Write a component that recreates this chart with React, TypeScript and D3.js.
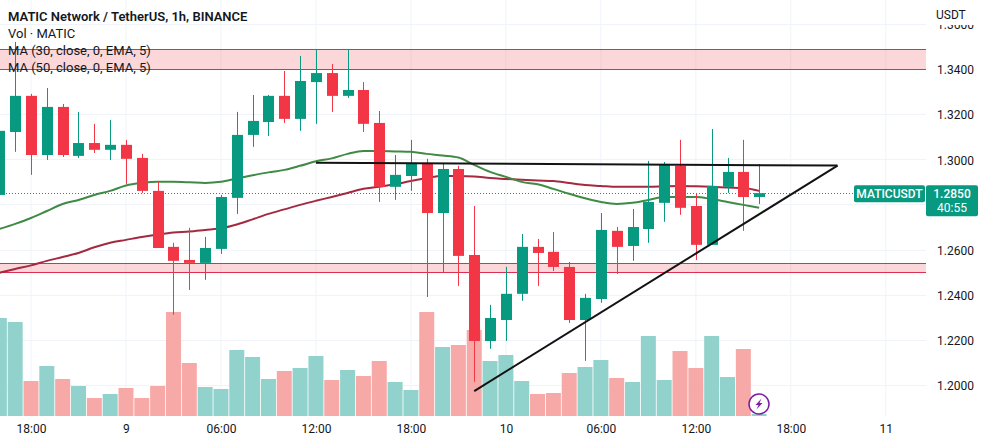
import React, { useEffect, useRef } from 'react';
import * as d3 from 'd3';

const FONT = 'Roboto, "Open Sans", sans-serif';
const UP = '#089981';
const DOWN = '#f23645';
const UP_VOL = '#92d2cc';
const DOWN_VOL = '#f7a9a7';
const GRID = '#f0f3fa';
const TEXT = '#131722';

// first bar sits two hours before the 18:00 tick
const FIRST_BAR = -2;

const opens = [1.2842, 1.3121, 1.3281, 1.3019, 1.3232, 1.3015, 1.3072, 1.3042, 1.3064, 1.3006, 1.2860, 1.2612, 1.2554, 1.2541, 1.2603, 1.2829, 1.3108, 1.3165, 1.3281, 1.3179, 1.3342, 1.3382, 1.3281, 1.3307, 1.3161, 1.2878, 1.2926, 1.2984, 1.2762, 1.2957, 1.2576, 1.2195, 1.2288, 1.2404, 1.2612, 1.2590, 1.2523, 1.2288, 1.2381, 1.2683, 1.2616, 1.2691, 1.2807, 1.2971, 1.2793, 1.2621, 1.2878, 1.2944, 1.2833];
const highs = [1.3126, 1.3520, 1.3290, 1.3316, 1.3245, 1.3210, 1.3157, 1.3174, 1.3086, 1.3024, 1.2900, 1.2630, 1.2696, 1.2656, 1.2842, 1.3210, 1.3285, 1.3285, 1.3391, 1.3458, 1.3484, 1.3422, 1.3489, 1.3342, 1.3214, 1.3019, 1.3086, 1.3002, 1.2984, 1.2971, 1.2793, 1.2355, 1.2523, 1.2669, 1.2647, 1.2678, 1.2545, 1.2404, 1.2762, 1.2700, 1.2780, 1.2993, 1.2988, 1.3086, 1.2847, 1.3134, 1.3006, 1.3086, 1.2979];
const lows = [1.2842, 1.3033, 1.2931, 1.2997, 1.3010, 1.3006, 1.3028, 1.2997, 1.2891, 1.2851, 1.2607, 1.2311, 1.2421, 1.2466, 1.2581, 1.2758, 1.3055, 1.3103, 1.3161, 1.3126, 1.3157, 1.3210, 1.3272, 1.3121, 1.2811, 1.2820, 1.2860, 1.2390, 1.2501, 1.2439, 1.2014, 1.2160, 1.2195, 1.2373, 1.2439, 1.2505, 1.2275, 1.2107, 1.2364, 1.2492, 1.2550, 1.2630, 1.2723, 1.2754, 1.2554, 1.2621, 1.2851, 1.2683, 1.2802];
const closes = [1.3126, 1.3281, 1.3019, 1.3232, 1.3019, 1.3072, 1.3042, 1.3064, 1.3002, 1.2860, 1.2607, 1.2550, 1.2541, 1.2607, 1.2833, 1.3108, 1.3170, 1.3281, 1.3179, 1.3347, 1.3382, 1.3281, 1.3307, 1.3157, 1.2878, 1.2931, 1.2984, 1.2762, 1.2957, 1.2572, 1.2195, 1.2297, 1.2404, 1.2612, 1.2585, 1.2523, 1.2288, 1.2386, 1.2687, 1.2612, 1.2700, 1.2811, 1.2975, 1.2785, 1.2621, 1.2882, 1.2944, 1.2833, 1.2850];
// millions of MATIC
const volumes = [4.90, 4.70, 1.75, 2.50, 1.85, 1.50, 0.90, 1.10, 1.40, 0.90, 1.50, 5.20, 2.65, 1.45, 1.35, 3.30, 2.95, 1.85, 2.25, 2.40, 3.00, 1.80, 2.30, 2.00, 2.75, 1.70, 1.30, 5.20, 3.45, 3.55, 4.30, 2.75, 3.05, 1.75, 1.10, 1.15, 2.15, 2.45, 2.80, 1.90, 1.70, 4.00, 1.80, 3.25, 2.40, 4.00, 1.95, 3.35, 0.10];
const ema30 = [1.2691, 1.2714, 1.2740, 1.2771, 1.2802, 1.2820, 1.2842, 1.2860, 1.2884, 1.2895, 1.2900, 1.2900, 1.2898, 1.2895, 1.2900, 1.2915, 1.2929, 1.2942, 1.2953, 1.2971, 1.2991, 1.3004, 1.3024, 1.3037, 1.3037, 1.3035, 1.3033, 1.3024, 1.3017, 1.3008, 1.2975, 1.2944, 1.2922, 1.2900, 1.2889, 1.2869, 1.2847, 1.2827, 1.2811, 1.2802, 1.2807, 1.2820, 1.2833, 1.2833, 1.2833, 1.2824, 1.2811, 1.2798, 1.2785];
const ema50 = [1.2497, 1.2514, 1.2530, 1.2550, 1.2567, 1.2585, 1.2610, 1.2630, 1.2643, 1.2656, 1.2667, 1.2676, 1.2680, 1.2687, 1.2694, 1.2711, 1.2734, 1.2758, 1.2778, 1.2798, 1.2816, 1.2833, 1.2851, 1.2869, 1.2878, 1.2889, 1.2904, 1.2917, 1.2926, 1.2926, 1.2924, 1.2917, 1.2913, 1.2909, 1.2906, 1.2904, 1.2895, 1.2886, 1.2882, 1.2878, 1.2878, 1.2878, 1.2880, 1.2882, 1.2880, 1.2878, 1.2875, 1.2873, 1.2860];

const gridPrices = [1.36, 1.34, 1.32, 1.30, 1.28, 1.26, 1.24, 1.22, 1.20];
// 1.2800 sits behind the countdown tag in the reference, so it gets no label
const labelPrices = [1.36, 1.34, 1.32, 1.30, 1.26, 1.24, 1.22, 1.20];
const timeTicks = [0, 6, 12, 18, 24, 30, 36, 42, 48, 54];
const timeLabels = ['18:00', '9', '06:00', '12:00', '18:00', '10', '06:00', '12:00', '18:00', '11'];
const legendLines = ['Vol · MATIC', 'MA (30, close, 0, EMA, 5)', 'MA (50, close, 0, EMA, 5)'];

const zones = [[1.3488, 1.34], [1.2541, 1.2501]];
// [bar, price] pairs of the two drawn trend lines
const trendLines = [
    [[18, 1.2985], [50.95, 1.2972]],
    [[28, 1.1973], [50.95, 1.2972]],
];
const lastPrice = 1.285;

const App = () => {
    const svgRef = useRef<SVGSVGElement | null>(null);

    useEffect(() => {
        const svg = d3.select(svgRef.current);
        svg.selectAll('*').remove();

        const x = d3.scaleLinear().domain([0, 54]).range([31, 885.8]);
        const y = d3.scaleLinear().domain([1.34, 1.2]).range([69, 385]);
        const vol = d3.scaleLinear().domain([0, 5.2]).range([416, 312]);
        const barX = (i: number) => x(i + FIRST_BAR);
        const isUp = (i: number) => closes[i] >= opens[i];
        const index = d3.range(opens.length);
        const snap = (p: number) => Math.round(y(p)) + 0.5;

        // grid
        svg.append('g').selectAll('line').data(timeTicks).enter().append('line')
            .attr('x1', d => x(d)).attr('x2', d => x(d))
            .attr('y1', 0).attr('y2', 416)
            .attr('stroke', GRID);
        svg.append('g').selectAll('line').data(gridPrices).enter().append('line')
            .attr('x1', 0).attr('x2', 926)
            .attr('y1', snap).attr('y2', snap)
            .attr('stroke', GRID);

        // volume
        svg.append('g').selectAll('rect').data(index).enter().append('rect')
            .attr('x', i => barX(i) - 7.5)
            .attr('width', 15)
            .attr('y', i => vol(volumes[i]))
            .attr('height', i => 416 - vol(volumes[i]))
            .attr('fill', i => (isUp(i) ? UP_VOL : DOWN_VOL));

        // price zones, only top and bottom edges are stroked
        svg.append('g').selectAll('rect').data(zones).enter().append('rect')
            .attr('x', 0)
            .attr('width', 926)
            .attr('y', d => snap(d[0]))
            .attr('height', d => snap(d[1]) - snap(d[0]))
            .attr('fill', 'rgba(242,54,69,0.2)');
        svg.append('g').selectAll('line').data(zones.flat()).enter().append('line')
            .attr('x1', 0).attr('x2', 926)
            .attr('y1', snap).attr('y2', snap)
            .attr('stroke', '#dc3050');

        // last price line
        svg.append('line')
            .attr('x1', 0).attr('x2', 926)
            .attr('y1', snap(lastPrice)).attr('y2', snap(lastPrice))
            .attr('stroke', UP)
            .attr('stroke-dasharray', '1,2');

        // moving averages
        const maLine = d3.line<number>()
            .x((_, i) => barX(i))
            .y(d => y(d))
            .curve(d3.curveMonotoneX);
        svg.append('path').attr('d', maLine(ema50)).attr('fill', 'none').attr('stroke', '#a32a40').attr('stroke-width', 2);
        svg.append('path').attr('d', maLine(ema30)).attr('fill', 'none').attr('stroke', '#3f8a44').attr('stroke-width', 2);

        // candles
        const candles = svg.append('g').selectAll('g').data(index).enter().append('g');
        candles.append('line')
            .attr('x1', i => Math.round(barX(i)) + 0.5).attr('x2', i => Math.round(barX(i)) + 0.5)
            .attr('y1', i => y(highs[i])).attr('y2', i => y(lows[i]))
            .attr('stroke', i => (isUp(i) ? UP : DOWN));
        candles.append('rect')
            .attr('x', i => Math.round(barX(i)) - 5)
            .attr('width', 11)
            .attr('y', i => y(Math.max(opens[i], closes[i])))
            .attr('height', i => Math.max(1, Math.abs(y(opens[i]) - y(closes[i]))))
            .attr('fill', i => (isUp(i) ? UP : DOWN));

        // trend lines
        svg.append('g').selectAll('line').data(trendLines).enter().append('line')
            .attr('x1', d => x(d[0][0])).attr('y1', d => y(d[0][1]))
            .attr('x2', d => x(d[1][0])).attr('y2', d => y(d[1][1]))
            .attr('stroke', '#131313')
            .attr('stroke-width', 2);

        // legend
        svg.append('text').attr('x', 8).attr('y', 21)
            .text('MATIC Network / TetherUS, 1h, BINANCE')
            .attr('font-family', FONT).attr('font-size', 13).attr('font-weight', 600)
            .attr('fill', TEXT);
        svg.append('g').selectAll('text').data(legendLines).enter().append('text')
            .attr('x', 8)
            .attr('y', (_, i) => 38 + i * 17)
            .text(d => d)
            .attr('font-family', FONT).attr('font-size', 13)
            .attr('fill', TEXT);

        // price axis, the top label is cut off by the currency header
        svg.append('clipPath').attr('id', 'price-labels')
            .append('rect').attr('x', 927).attr('y', 25).attr('width', 55).attr('height', 400);
        const priceAxis = d3.axisRight(y)
            .tickValues(labelPrices)
            .tickFormat(d => d3.format('.4f')(d as number))
            .tickSize(0)
            .tickPadding(0);
        const py = svg.append('g')
            .attr('clip-path', 'url(#price-labels)')
            .append('g').attr('transform', 'translate(937,1)').call(priceAxis);
        py.select('.domain').remove();
        py.selectAll('text')
            .attr('font-family', FONT).attr('font-size', 12).attr('fill', TEXT);

        svg.append('text').attr('x', 936).attr('y', 18.5).text('USDT')
            .attr('font-family', FONT).attr('font-size', 12).attr('fill', TEXT);

        // time axis
        const timeAxis = d3.axisBottom(x)
            .tickValues(timeTicks)
            .tickFormat((_, i) => timeLabels[i])
            .tickSize(0)
            .tickPadding(0);
        const tx = svg.append('g').attr('transform', 'translate(0,424)').call(timeAxis);
        tx.select('.domain').remove();
        tx.selectAll('text')
            .attr('font-family', FONT).attr('font-size', 12).attr('fill', TEXT);

        // last price tags
        const tagY = y(lastPrice);
        svg.append('rect').attr('x', 854).attr('y', tagY - 8).attr('width', 71).attr('height', 17).attr('rx', 2).attr('fill', UP);
        svg.append('text').attr('x', 889.5).attr('y', tagY + 4.5).attr('text-anchor', 'middle').text('MATICUSDT')
            .attr('font-family', FONT).attr('font-size', 12).attr('font-weight', 500).attr('fill', '#fff');
        svg.append('rect').attr('x', 926).attr('y', tagY - 8).attr('width', 52).attr('height', 31).attr('rx', 2).attr('fill', UP);
        svg.append('text').attr('x', 952).attr('y', tagY + 4.5).attr('text-anchor', 'middle').text(d3.format('.4f')(lastPrice))
            .attr('font-family', FONT).attr('font-size', 12).attr('font-weight', 500).attr('fill', '#fff');
        svg.append('text').attr('x', 952).attr('y', tagY + 18.5).attr('text-anchor', 'middle').text('40:55')
            .attr('font-family', FONT).attr('font-size', 12).attr('fill', '#fff');

        // lightning badge
        const badge = svg.append('g').attr('transform', 'translate(759,404)');
        badge.append('circle').attr('r', 10).attr('fill', '#fff').attr('stroke', '#7b1fa2').attr('stroke-width', 1.5);
        badge.append('path').attr('d', 'M2.5,-5.5 L-3.5,1 L-0.5,1 L-2.5,5.5 L3.5,-1 L0.5,-1 Z').attr('fill', '#7b1fa2');
    }, []);

    return (
        <svg
            ref={svgRef}
            width={982}
            height={444}
            style={{ position: 'absolute', left: 0, top: 0, display: 'block', background: '#fff' }}
        />
    );
};

export default App;
